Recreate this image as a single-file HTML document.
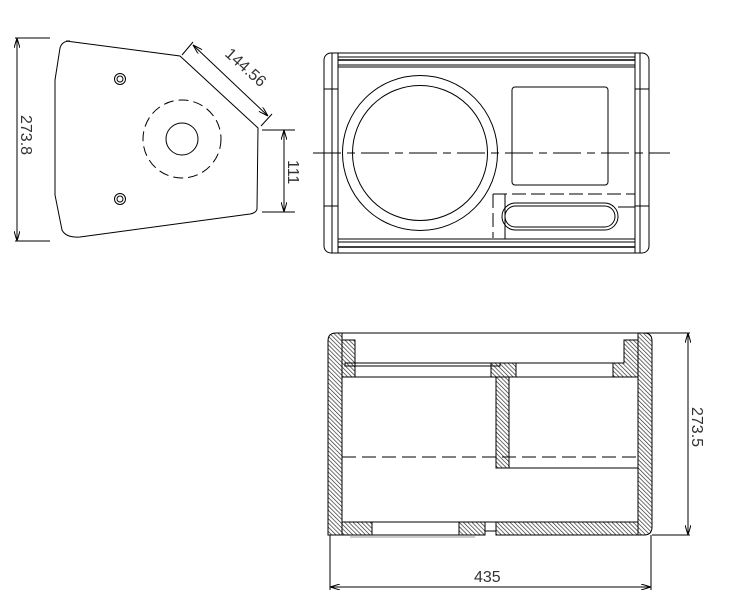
<!DOCTYPE html>
<html><head><meta charset="utf-8"><style>
html,body{margin:0;padding:0;background:#fff;}
svg{display:block;}
text{font-family:"Liberation Sans",sans-serif;font-size:16px;fill:#333;}
</style></head><body>
<svg width="734" height="603" viewBox="0 0 734 603" xmlns="http://www.w3.org/2000/svg">
<defs>
<pattern id="h" width="3" height="3" patternUnits="userSpaceOnUse" patternTransform="rotate(-45)">
<rect width="3" height="3" fill="#fff"/><line x1="0" y1="0" x2="0" y2="3" stroke="#222" stroke-width="1.3"/>
</pattern>
<marker id="a" viewBox="0 0 10 6" refX="10" refY="3" markerWidth="10" markerHeight="6" orient="auto-start-reverse" markerUnits="userSpaceOnUse"><path d="M0,0 L10,3 L0,6" fill="none" stroke="#000" stroke-width="1"/></marker>
</defs>
<g fill="none" stroke="#000" stroke-width="1">
<!-- Side view -->
<line x1="15" y1="38" x2="50" y2="38"/><line x1="15" y1="241" x2="50" y2="241"/>
<line x1="17" y1="38" x2="17" y2="241" marker-start="url(#a)" marker-end="url(#a)"/>
<path d="M66,41 L180,56 L258,128 L257,209 Q256,213 250,214 L80,237 Q66,238 62,230 L55,195 L55,80 L60,48 Q62,41 70,41 Z"/>
<circle cx="120" cy="79" r="5.5"/><circle cx="120" cy="79" r="3"/>
<circle cx="120" cy="199" r="5.5"/><circle cx="120" cy="199" r="3"/>
<circle cx="182" cy="139" r="16"/>
<circle cx="182" cy="139" r="39" stroke-dasharray="10,5"/>
<line x1="182" y1="55" x2="193" y2="42"/><line x1="261" y1="126" x2="272" y2="114"/>
<line x1="193" y1="45" x2="268" y2="116" marker-start="url(#a)" marker-end="url(#a)"/>
<line x1="262" y1="130" x2="295" y2="130"/><line x1="262" y1="212" x2="295" y2="212"/>
<line x1="284" y1="130" x2="284" y2="212" marker-start="url(#a)" marker-end="url(#a)"/>
<!-- Front view -->
<rect x="324" y="53" width="325" height="200" rx="7"/>
<line x1="332" y1="53" x2="332" y2="253"/><line x1="338" y1="53" x2="338" y2="253"/>
<line x1="635" y1="53" x2="635" y2="253"/><line x1="640" y1="53" x2="640" y2="253"/>
<line x1="338" y1="57" x2="635" y2="57"/><line x1="338" y1="60" x2="635" y2="60" stroke-width="1.5"/>
<line x1="338" y1="65" x2="635" y2="65"/><line x1="338" y1="67" x2="635" y2="67"/>
<line x1="338" y1="239" x2="635" y2="239"/><line x1="338" y1="242" x2="635" y2="242"/>
<line x1="338" y1="247" x2="635" y2="247" stroke-width="1.5"/>
<line x1="324" y1="89" x2="338" y2="89"/><line x1="324" y1="206" x2="338" y2="206"/>
<line x1="635" y1="89" x2="649" y2="89"/><line x1="635" y1="206" x2="649" y2="206"/>
<circle cx="420" cy="153" r="77.5"/><circle cx="420" cy="153" r="67.5"/>
<rect x="512" y="87" width="96" height="98" rx="3"/>
<line x1="313" y1="153" x2="670" y2="153" stroke-dasharray="28,6,8,6"/>
<line x1="493" y1="194" x2="635" y2="194" stroke-dasharray="14,5"/>
<line x1="493" y1="194" x2="493" y2="238" stroke-dasharray="14,5"/>
<line x1="505" y1="194" x2="505" y2="239"/>
<rect x="502" y="203" width="116" height="27" rx="13.5"/>
<rect x="505" y="206" width="110" height="21" rx="10.5"/>
<line x1="618" y1="207" x2="635" y2="207"/>
<!-- Section view -->
<line x1="342" y1="333" x2="690" y2="333"/>
<line x1="652" y1="535" x2="690" y2="535"/>
<line x1="688" y1="333" x2="688" y2="535" marker-start="url(#a)" marker-end="url(#a)"/>
<line x1="330" y1="535" x2="330" y2="590"/><line x1="651" y1="535" x2="651" y2="590"/>
<line x1="330" y1="587" x2="651" y2="587" marker-start="url(#a)" marker-end="url(#a)"/>
<path d="M342,333 L342,535 L328,535 L328,341 Q328,333 336,333 Z" fill="url(#h)"/>
<path d="M638,333 L644,333 Q652,333 652,341 L652,527 Q652,535 644,535 L638,535 Z" fill="url(#h)"/>
<path d="M342,340 L355,340 L355,377 L342,377 Z" fill="url(#h)"/>
<path d="M624,340 L638,340 L638,377 L613,377 L613,363 L624,363 Z" fill="url(#h)"/>
<rect x="491" y="363" width="25" height="14" fill="url(#h)"/>
<rect x="496" y="377" width="13" height="91" fill="url(#h)"/>
<rect x="345" y="363" width="155" height="3"/>
<line x1="355" y1="363" x2="613" y2="363"/>
<line x1="342" y1="377" x2="638" y2="377"/>
<line x1="509" y1="468" x2="638" y2="468"/>
<line x1="342" y1="457" x2="638" y2="457" stroke-dasharray="14,6"/>
<line x1="342" y1="522" x2="638" y2="522"/>
<rect x="342" y="522" width="30" height="13" fill="url(#h)"/>
<rect x="459" y="522" width="26" height="13" fill="url(#h)"/>
<rect x="496" y="522" width="142" height="13" fill="url(#h)"/>
<line x1="372" y1="535" x2="459" y2="535"/>
<line x1="485" y1="531" x2="496" y2="531"/>
<line x1="350" y1="537" x2="475" y2="537" stroke="#999"/>
</g>
<text transform="translate(21,115) rotate(90)">273.8</text>
<text transform="translate(224,55) rotate(42)">144.56</text>
<text transform="translate(288,160) rotate(90)">111</text>
<text transform="translate(692,407) rotate(90)">273.5</text>
<text x="474" y="582">435</text>
</svg>
</body></html>
